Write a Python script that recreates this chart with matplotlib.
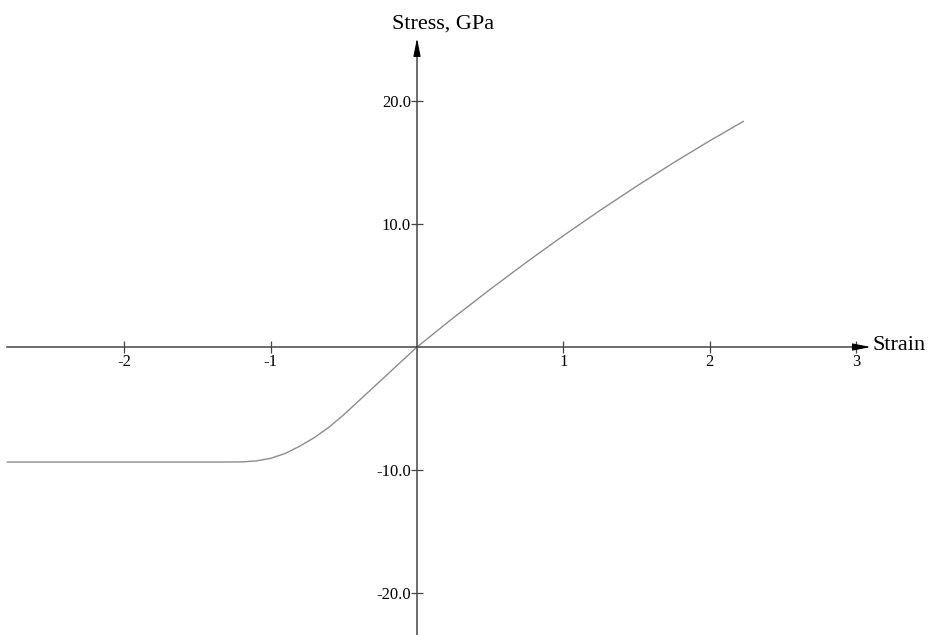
import matplotlib.pyplot as plt
from matplotlib.ticker import FormatStrFormatter

plt.rcParams['font.family'] = ['Liberation Serif', 'DejaVu Serif']
plt.rcParams['axes.unicode_minus'] = False

# stress-strain curve
strain = [-2.8, -1.3, -1.2, -1.1, -1.0, -0.9, -0.8, -0.7,
          -0.6, -0.5, -0.4, -0.3, -0.2, -0.1, 0.0,
          0.25, 0.5, 0.75, 1.0, 1.25, 1.5, 1.75, 2.0, 2.23]
stress = [-9.35, -9.35, -9.34, -9.26, -9.05, -8.65, -8.05, -7.35,
          -6.5, -5.5, -4.4, -3.3, -2.2, -1.1, 0.0,
          2.39, 4.69, 6.91, 9.05, 11.1, 13.07, 14.96, 16.76, 18.34]

xticks = [-2, -1, 1, 2, 3]
yticks = [-20.0, -10.0, 10.0, 20.0]

axis_col = '#444444'

fig = plt.figure(figsize=(9.36, 6.35), dpi=100)
ax = fig.add_axes([0, 0, 1, 1])
ax.set_xlim(-2.850, 3.547)
ax.set_ylim(-23.41, 28.21)

ax.plot(strain, stress, color='#8c8c8c', lw=1.0)

for s in ['top', 'right']:
    ax.spines[s].set_visible(False)
ax.spines['left'].set_position(('data', 0))
ax.spines['bottom'].set_position(('data', 0))
ax.spines['bottom'].set_bounds(-2.80, 3.05)
ax.spines['left'].set_bounds(-23.41, 24.5)
for s in ['left', 'bottom']:
    ax.spines[s].set_color(axis_col)
    ax.spines[s].set_linewidth(1.1)

ax.set_xticks(xticks)
ax.set_yticks(yticks)
ax.yaxis.set_major_formatter(FormatStrFormatter('%.1f'))
ax.tick_params(axis='x', direction='inout', length=8, width=0.9,
               color=axis_col, labelsize=12, pad=1)
ax.tick_params(axis='y', direction='inout', length=9, width=0.9,
               color=axis_col, labelsize=12, pad=0)

# arrow heads
ax.annotate('', xy=(3.10, 0), xytext=(3.0, 0),
            arrowprops=dict(arrowstyle='-|>,head_length=1.1,head_width=0.22',
                            color='black', lw=0.8, shrinkA=0, shrinkB=0))
ax.annotate('', xy=(0, 25.1), xytext=(0, 23.8),
            arrowprops=dict(arrowstyle='-|>,head_length=1.1,head_width=0.22',
                            color='black', lw=0.8, shrinkA=0, shrinkB=0))

ax.text(3.115, 0.1, 'Strain', fontsize=16, ha='left', va='center')
ax.text(0.18, 25.9, 'Stress, GPa', fontsize=16, ha='center', va='baseline')

fig.savefig('out.png', dpi=100)
